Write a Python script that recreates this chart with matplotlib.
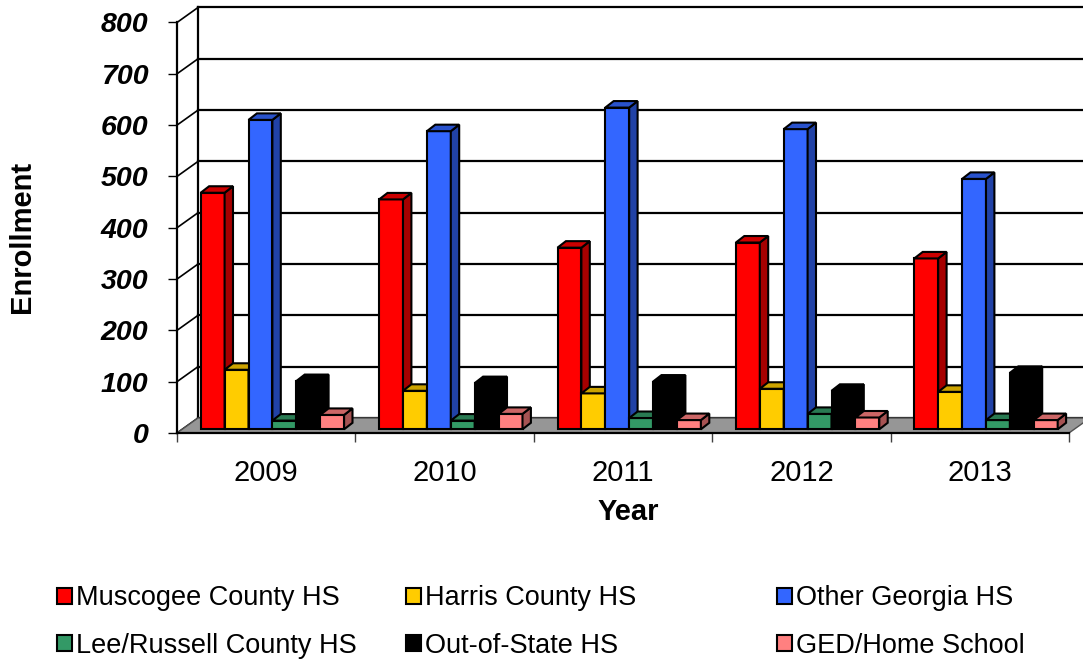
import matplotlib.pyplot as plt
from matplotlib.patches import Polygon, Patch
from matplotlib.colors import to_rgb
import numpy as np

plt.rcParams["font.family"] = ["Liberation Sans", "DejaVu Sans"]

years = ["2009", "2010", "2011", "2012", "2013"]
series_names = ["Muscogee County HS", "Harris County HS", "Other Georgia HS",
                "Lee/Russell County HS", "Out-of-State HS", "GED/Home School"]
muscogee = [461, 448, 354, 364, 333]
harris = [116, 75, 70, 79, 73]
other_georgia = [603, 581, 627, 585, 488]
lee_russell = [17, 17, 22, 30, 18]
out_of_state = [94, 90, 93, 75, 110]
ged_home = [28, 30, 18, 23, 18]
y_ticks = [0, 100, 200, 300, 400, 500, 600, 700, 800]

series = [muscogee, harris, other_georgia, lee_russell, out_of_state, ged_home]
colors = ["#FF0000", "#FFCC00", "#3366FF", "#339966", "#000000", "#FF8080"]


def shade(color, k):
    r, g, b = to_rgb(color)
    return (r * k, g * k, b * k)


W, H = 1083, 659
fig = plt.figure(figsize=(W / 100, H / 100), dpi=100)
ax = fig.add_axes([177 / W, 1 - 433 / H, 892 / W, 410.5 / H])
ax.set_xlim(0, len(years))
ax.set_ylim(0, 800)
ax.patch.set_alpha(0)

# pixel -> data unit factors for the fake depth
px_x = len(years) / 892
px_y = 800 / 410.5
wall_dx, wall_dy = 21 * px_x, 15 * px_y
bar_dx, bar_dy = 8.4 * px_x, 6.5 * px_y
bar_x0, bar_y0 = 23.7 * px_x, 3.7 * px_y
bar_w = 23.9 * px_x
n = len(years)

# back wall, side wall and floor
for v in y_ticks:
    ax.plot([wall_dx, n + wall_dx], [v + wall_dy] * 2, color="black", lw=1.6,
            clip_on=False, zorder=0.5)
    ax.plot([0, wall_dx], [v, v + wall_dy], color="black", lw=1.2,
            clip_on=False, zorder=0.5)
ax.plot([wall_dx, wall_dx], [wall_dy, 800 + wall_dy], color="black", lw=1.6,
        clip_on=False, zorder=0.5)
floor = Polygon([(0, 0), (n, 0), (n + wall_dx, wall_dy), (wall_dx, wall_dy)],
                closed=True, facecolor="#969696", edgecolor="#505050", lw=1,
                clip_on=False, zorder=1)
ax.add_patch(floor)

# bars: front faces through ax.bar, then side and top faces
x = np.arange(n)
for j, (vals, col) in enumerate(zip(series, colors)):
    left = x + bar_x0 + j * bar_w
    z = 3 + 3 * j
    ax.bar(left, vals, width=bar_w, bottom=bar_y0, align="edge", color=col,
           edgecolor="black", lw=1.5, clip_on=False, zorder=z)
    for x0, v in zip(left, vals):
        x1 = x0 + bar_w
        y0, y1 = bar_y0, bar_y0 + v
        side = Polygon([(x1, y0), (x1 + bar_dx, y0 + bar_dy),
                        (x1 + bar_dx, y1 + bar_dy), (x1, y1)],
                       facecolor=shade(col, 0.65), edgecolor="black", lw=1.5,
                       clip_on=False, zorder=z + 1)
        top = Polygon([(x0, y1), (x1, y1), (x1 + bar_dx, y1 + bar_dy),
                       (x0 + bar_dx, y1 + bar_dy)],
                      facecolor=shade(col, 0.8), edgecolor="black", lw=1.5,
                      clip_on=False, zorder=z + 2)
        ax.add_patch(side)
        ax.add_patch(top)

# axes styling
for s in ["top", "right"]:
    ax.spines[s].set_visible(False)
ax.spines["left"].set_linewidth(1.6)
ax.spines["bottom"].set_linewidth(1.6)
ax.set_yticks(y_ticks)
ax.set_yticklabels([str(v) for v in y_ticks], fontsize=20.5, fontweight="bold",
                   fontstyle="italic")
ax.tick_params(axis="y", length=6.5, width=1, pad=14)
ax.set_xticks(range(n + 1))
ax.set_xticklabels([])
ax.tick_params(axis="x", which="major", length=6.3, width=1, color="#404040")
ax.set_xticks(x + 0.5, minor=True)
ax.set_xticklabels(years, minor=True, fontsize=21)
ax.tick_params(axis="x", which="minor", length=0, pad=19)

fig.text(628 / W, 1 - 512 / H, "Year", fontsize=21, fontweight="bold",
         ha="center", va="center")
fig.text(21.7 / W, 1 - 237 / H, "Enrollment", fontsize=21, fontweight="bold",
         rotation=90, ha="center", va="center")

# legend in three columns
handles = [Patch(facecolor=c, edgecolor="black", lw=1.5) for c in colors]
col_x = [57, 406, 777]
for k in range(3):
    fig.legend([handles[k], handles[k + 3]], [series_names[k], series_names[k + 3]],
               loc="center left", bbox_to_anchor=(col_x[k] / W, 1 - 622 / H),
               frameon=False, fontsize=19.5, handlelength=0.55, handleheight=0.55,
               handletextpad=0.15, borderpad=0, borderaxespad=0, labelspacing=0.78)

fig.savefig("out.png", dpi=100)
